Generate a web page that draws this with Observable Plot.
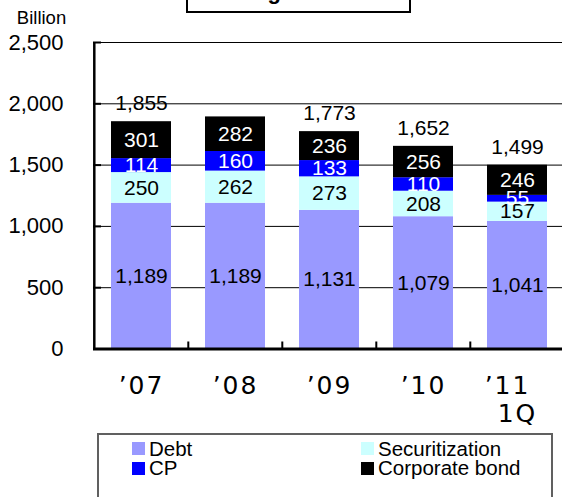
<!DOCTYPE html>
<html>
<head>
<meta charset="utf-8">
<script src="https://cdn.jsdelivr.net/npm/d3@7"></script>
<script src="https://cdn.jsdelivr.net/npm/@observablehq/plot@0.6"></script>
<style>
  body { margin: 0; background: #fff; }
  #wrap { position: relative; width: 562px; height: 497px; overflow: hidden; font-family: "Liberation Sans", Arial, sans-serif; color: #000; }
  #wrap svg { position: absolute; left: 0; top: 0; overflow: visible; }
  #titlebox { position: absolute; left: 186px; top: -40px; width: 221px; height: 49px; border: 2px solid #000; }
  #title { position: absolute; left: 177px; width: 225px; top: -18.6px; text-align: center; font-size: 22px; line-height: 22px; font-weight: bold; white-space: nowrap; }
  #legend { position: absolute; left: 97px; top: 433px; width: 452px; height: 100px; border: 2px solid #606060; }
  .sw { position: absolute; width: 13px; height: 13px; }
  .lt { position: absolute; font-size: 20.5px; line-height: 20px; white-space: nowrap; }
  g[aria-label="x-axis tick label"] text { letter-spacing: 2px; }
</style>
</head>
<body>
<div id="wrap">
  <div id="titlebox"></div>
  <div id="title">Funding Structure</div>
  <div id="legend"></div>
</div>
<script>
// ---- data ----
const years = ["2007", "2008", "2009", "2010", "2011"];
const xLabels = ["’07", "’08", "’09", "’10", "’11\u00a0\u00a0\n1Q"];
const series = ["Debt", "Securitization", "CP", "Corporate bond"];
const colors = ["#9999ff", "#ccffff", "#0000ff", "#000000"];
const labelColors = ["black", "black", "white", "white"];
const debt = [1189, 1189, 1131, 1079, 1041];
const securitization = [250, 262, 273, 208, 157];
const cp = [114, 160, 133, 110, 55];
const corporateBond = [301, 282, 236, 256, 246];
const totals = [1855, null, 1773, 1652, 1499];
const yTicks = [0, 500, 1000, 1500, 2000, 2500];
const unitLabel = "Billion";

// ---- build table ----
const seriesValues = [debt, securitization, cp, corporateBond];
const rows = years.flatMap((yr, i) => series.map((s, j) => ({year: yr, series: s, value: seriesValues[j][i], tc: labelColors[j]})));
const totalRows = years.map((yr, i) => ({year: yr, total: totals[i]})).filter(d => d.total != null);
const fmt = d3.format(",");

// ---- layout ----
const W = 562, H = 432;
const x0 = 93, x1 = 565, yBottom = 348.5, yTop = 42;
const step = (x1 - x0) / years.length;

const stackOpts = (color) => Plot.stackY({
  x: "year", y: "value", z: "series",
  text: d => d.tc === color ? fmt(d.value) : ""
});

const chart = Plot.plot({
  width: W, height: H,
  marginLeft: x0, marginRight: 0, marginTop: yTop, marginBottom: H - yBottom,
  style: {fontFamily: "'Liberation Sans', Arial, sans-serif", color: "#000", background: "transparent", overflow: "visible"},
  x: {domain: years, range: [x0, x1], paddingInner: 0.365, paddingOuter: 0.1825, axis: null},
  y: {domain: [0, 2500], axis: null},
  color: {domain: series, range: colors},
  marks: [
    Plot.ruleY(yTicks, {stroke: "#000", strokeWidth: 1}),
    Plot.barY(rows, {x: "year", y: "value", z: "series", fill: "series"}),
    Plot.ruleY([0], {stroke: "#000", strokeWidth: 3}),
    Plot.ruleX([years[0]], {x: d => d, y1: 0, y2: 2500, dx: -step / 2, stroke: "#000", strokeWidth: 2.5}),
    Plot.ruleY(yTicks, {stroke: "#000", strokeWidth: 2, insetRight: W - x0 - 8}),
    Plot.ruleX(years.slice(1), {x: d => d, y1: 0, y2: 0, insetTop: -7, dx: -step / 2, stroke: "#000", strokeWidth: 2}),
    Plot.axisY({ticks: yTicks, tickFormat: fmt, tickSize: 0, tickPadding: 30, fontSize: 22, label: null, fill: "#000"}),
    Plot.axisX({tickFormat: d => xLabels[years.indexOf(d)], tickSize: 0, tickPadding: 25, fontSize: 25, fontFamily: "DejaVu Sans", lineHeight: 1.12, label: null, fill: "#000"}),
    Plot.text(rows, {...stackOpts("black"), fill: "black", fontSize: 21}),
    Plot.text(rows, {...stackOpts("white"), fill: "white", fontSize: 21}),
    Plot.text(totalRows, {x: "year", y: "total", text: d => fmt(d.total), dy: -18, fontSize: 21, fill: "black"}),
    Plot.text([unitLabel], {frameAnchor: "top-left", text: d => d, dx: -52, dy: -19, textAnchor: "middle", lineAnchor: "bottom", fontSize: 18.5, fill: "black"})
  ]
});
const wrap = document.getElementById("wrap");
wrap.insertBefore(chart, wrap.firstChild);

// ---- legend ----
const legend = document.getElementById("legend");
series.forEach((s, i) => {
  const col = i % 2, row = Math.floor(i / 2);
  const swLeft = [132, 361][col] - 99, swTop = [442, 461.5][row] - 435;
  const sw = document.createElement("div");
  sw.className = "sw";
  sw.style.left = swLeft + "px";
  sw.style.top = swTop + "px";
  sw.style.background = colors[i];
  legend.appendChild(sw);
  const t = document.createElement("div");
  t.className = "lt";
  t.style.left = (swLeft + 17) + "px";
  t.style.top = (swTop - 3.5) + "px";
  t.textContent = s;
  legend.appendChild(t);
});
</script>
</body>
</html>
